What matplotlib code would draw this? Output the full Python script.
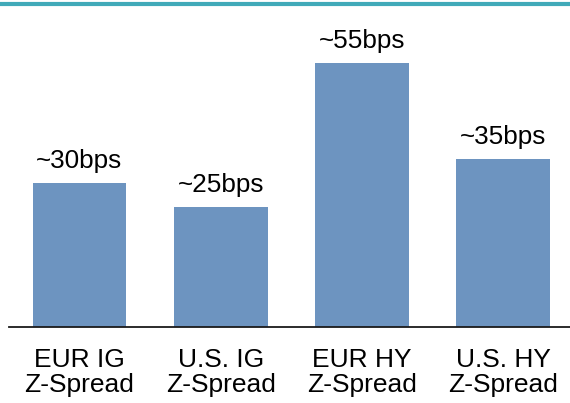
import matplotlib
matplotlib.use("Agg")
import matplotlib.pyplot as plt
from matplotlib.lines import Line2D

categories = ["EUR IG\nZ-Spread", "U.S. IG\nZ-Spread", "EUR HY\nZ-Spread", "U.S. HY\nZ-Spread"]
values = [30, 25, 55, 35]
labels = ["~30bps", "~25bps", "~55bps", "~35bps"]

plt.rcParams['font.family'] = ['Liberation Sans', 'DejaVu Sans']

fig = plt.figure(figsize=(5.70, 4.03), dpi=100)
ax = fig.add_axes([0.0156, 0.1886, 0.9907, 0.7146])

x = range(len(values))
ax.bar(x, values, width=0.665, color='#6D94C0', zorder=2)
ax.set_xlim(-0.5, 3.5)
ax.set_ylim(0, 60)

for xi, v, lab in zip(x, values, labels):
    ax.annotate(lab, (xi, v), xytext=(0, 11), textcoords='offset points',
                ha='center', va='baseline', fontsize=18.8, color='black')

ax.set_xticks(list(x))
ax.set_xticklabels(categories, fontsize=19, linespacing=1.05)
ax.tick_params(axis='x', length=0, pad=15)
ax.set_yticks([])
for s in ['top', 'right', 'left']:
    ax.spines[s].set_visible(False)
ax.spines['bottom'].set_linewidth(1.3)
ax.spines['bottom'].set_color('#1a1a1a')

fig.add_artist(Line2D([0, 1], [0.990, 0.990], transform=fig.transFigure,
                      color='#41AAB9', linewidth=3.0, solid_capstyle='butt'))

fig.savefig('out.png', dpi=100)
